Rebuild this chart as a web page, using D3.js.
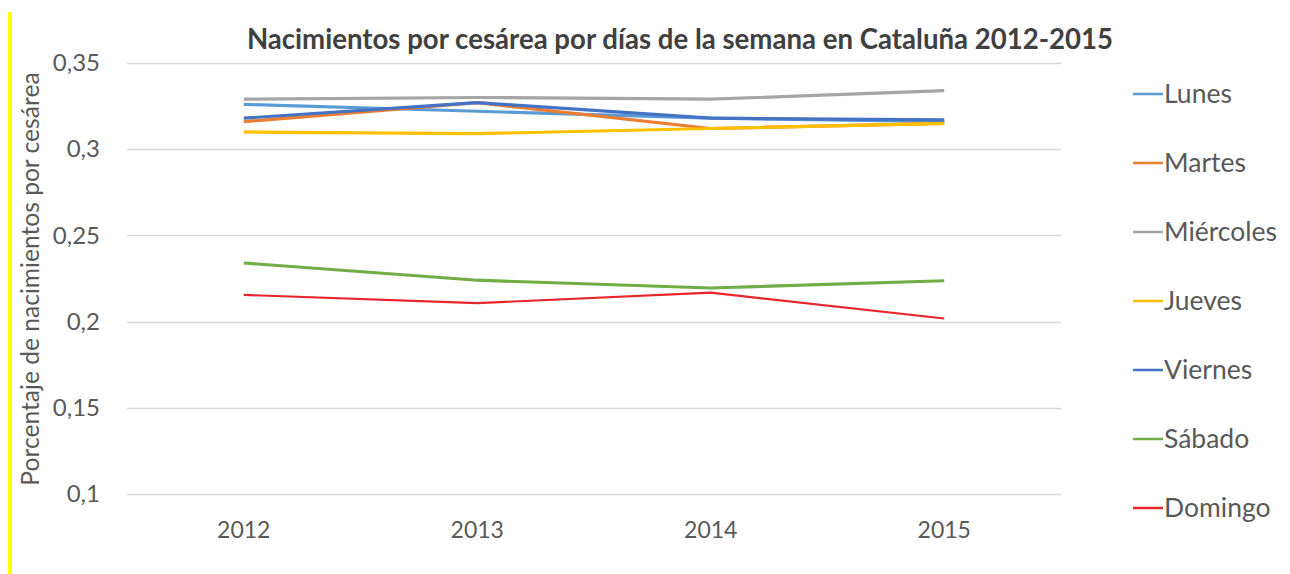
<!DOCTYPE html>
<html>
<head>
<meta charset="utf-8">
<script src="https://cdn.jsdelivr.net/npm/d3@7"></script>
<style>
  html, body { margin: 0; padding: 0; background: #fff; }
  svg { display: block; font-family: Lato, "Open Sans", sans-serif; }
</style>
</head>
<body>
<svg id="chart" width="1290" height="574"></svg>
<script>
const title = "Nacimientos por cesárea por días de la semana en Cataluña 2012-2015";
const yAxisTitle = "Porcentaje de nacimientos por cesárea";
const years = ["2012", "2013", "2014", "2015"];
const yTicks = [0.1, 0.15, 0.2, 0.25, 0.3, 0.35];
const seriesNames = ["Lunes", "Martes", "Miércoles", "Jueves", "Viernes", "Sábado", "Domingo"];
const seriesColors = ["#5B9BD5", "#ED7D31", "#A5A5A5", "#FFC000", "#4472C4", "#70AD47", "#E8252A"];
const lunes     = [0.326, 0.322, 0.318, 0.316];
const martes    = [0.316, 0.327, 0.312, 0.315];
const miercoles = [0.329, 0.330, 0.329, 0.334];
const jueves    = [0.310, 0.309, 0.312, 0.315];
const viernes   = [0.318, 0.327, 0.318, 0.317];
const sabado    = [0.234, 0.224, 0.2195, 0.2237];
const domingo   = [0.2155, 0.2107, 0.2168, 0.2018];
const seriesValues = [lunes, martes, miercoles, jueves, viernes, sabado, domingo];

const svg = d3.select("#chart");

// yellow marker bar on the left edge
svg.append("rect").attr("x", 8).attr("y", 12).attr("width", 4).attr("height", 562).attr("fill", "#FFFF00");

const plot = { left: 127, right: 1061, top: 63, bottom: 494 };

const x = d3.scaleBand().domain(years).range([plot.left, plot.right]);
const y = d3.scaleLinear().domain([0.1, 0.35]).range([plot.bottom, plot.top]);

// gridlines
svg.append("g").selectAll("line").data(yTicks).join("line")
  .attr("x1", plot.left).attr("x2", plot.right)
  .attr("y1", d => Math.round(y(d)) + 0.5).attr("y2", d => Math.round(y(d)) + 0.5)
  .attr("stroke", "#D9D9D9").attr("stroke-width", 1.3);

// y axis labels
const fmt = d => d3.format("")(+d.toFixed(2)).replace(".", ",");
const yAxis = d3.axisLeft(y).tickValues(yTicks).tickFormat(fmt).tickSize(0).tickPadding(0);
const gy = svg.append("g").attr("transform", `translate(100,0)`).call(yAxis);
gy.select(".domain").remove();
gy.selectAll("text").attr("font-size", 24).attr("fill", "#595959").attr("font-family", "Lato, sans-serif");

// x axis labels
const xAxis = d3.axisBottom(x).tickSize(0).tickPadding(0);
const gx = svg.append("g").attr("transform", `translate(0,${plot.bottom + 28})`).call(xAxis);
gx.select(".domain").remove();
gx.selectAll("text").attr("font-size", 23).attr("fill", "#595959").attr("font-family", "Lato, sans-serif");

// lines
const line = d3.line().x((d, i) => x(years[i]) + x.bandwidth() / 2).y(d => y(d));
svg.append("g").selectAll("path").data(seriesValues).join("path")
  .attr("d", d => line(d))
  .attr("fill", "none")
  .attr("stroke", (d, i) => seriesColors[i])
  .attr("stroke-width", (d, i) => i === 6 ? 2.2 : 3.2)
  .attr("stroke-linejoin", "round");

// title
svg.append("text").attr("x", 680).attr("y", 49).attr("text-anchor", "middle")
  .attr("font-size", 27.6).attr("font-weight", "bold").attr("fill", "#404040")
  .text(title);

// y axis title
svg.append("text").attr("transform", "translate(39,279) rotate(-90)").attr("text-anchor", "middle")
  .attr("font-size", 24.6).attr("fill", "#595959").text(yAxisTitle);

// legend
const legend = svg.append("g").selectAll("g").data(seriesNames).join("g")
  .attr("transform", (d, i) => `translate(1133,${94 + i * 69})`);
legend.append("line").attr("x1", 0).attr("x2", 30).attr("y1", 0).attr("y2", 0)
  .attr("stroke", (d, i) => seriesColors[i]).attr("stroke-width", 2.5);
legend.append("text").attr("x", 31).attr("y", 9).attr("font-size", 26.5).attr("fill", "#595959").text(d => d);
</script>
</body>
</html>
